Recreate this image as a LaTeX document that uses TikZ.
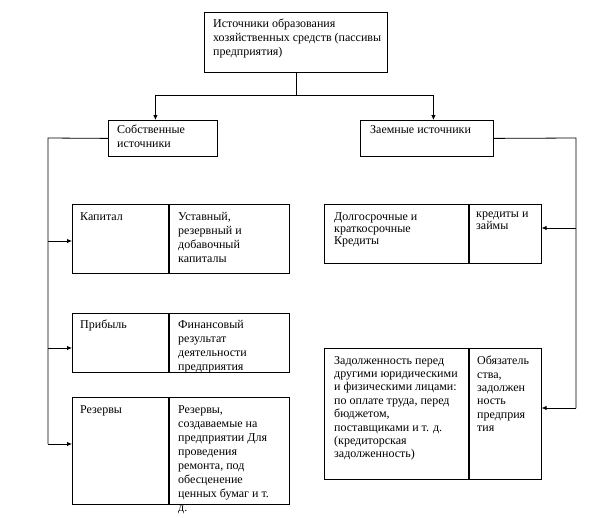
\documentclass[tikz,border=0pt]{standalone}
\usepackage{fontspec}
\setmainfont{Liberation Serif}
\usetikzlibrary{arrows.meta}
\begin{document}
\begin{tikzpicture}[x=1pt,y=-1pt,
  box/.style={draw, line width=0.8pt, inner sep=0pt, anchor=north west},
  txt/.style={inner sep=0pt, anchor=north west, align=left, font=\fontsize{12}{14}\selectfont},
  ln/.style={line width=0.8pt},
  arr/.style={line width=0.8pt, -{Latex[length=5pt,width=4.5pt]}}]
\useasboundingbox (0,0) rectangle (613,517);
% boxes
\node[box, minimum width=183pt, minimum height=60pt] (top) at (204,12) {};
\node[box, minimum width=109pt, minimum height=36pt] (sob) at (108,120) {};
\node[box, minimum width=133pt, minimum height=36pt] (zaem) at (360,120) {};
\node[box, minimum width=96pt, minimum height=69pt] (kapL) at (72,204) {};
\node[box, minimum width=120pt, minimum height=69pt] (kapR) at (kapL.north east) {};
\node[box, minimum width=96pt, minimum height=59pt] (pribL) at (72,313) {};
\node[box, minimum width=120pt, minimum height=59pt] (pribR) at (pribL.north east) {};
\node[box, minimum width=96pt, minimum height=107pt] (rezL) at (72,397) {};
\node[box, minimum width=120pt, minimum height=107pt] (rezR) at (rezL.north east) {};
\node[box, minimum width=144pt, minimum height=59pt] (kredL) at (324,204) {};
\node[box, minimum width=72pt, minimum height=59pt] (kredR) at (kredL.north east) {};
\node[box, minimum width=144pt, minimum height=131pt] (zadL) at (324,348) {};
\node[box, minimum width=72pt, minimum height=131pt] (zadR) at (zadL.north east) {};
% texts
\node[txt] (ttop) at (213,19) {Источники образования\\хозяйственных средств (пассивы\\предприятия)};
\node[txt] (tsob) at (117,125) {Собственные\\источники};
\node[txt] (tzaem) at (370,125) {Заемные источники};
\node[txt] (tkapL) at (80,212) {Капитал};
\node[txt] (tkapR) at (178,212) {Уставный,\\резервный и\\добавочный\\капиталы};
\node[txt] (tpribL) at (80,320) {Прибыль};
\node[txt] (tpribR) at (178,320) {Финансовый\\результат\\деятельности\\предприятия};
\node[txt] (trezL) at (80,405) {Резервы};
\node[txt] (trezR) at (178,405) {Резервы,\\создаваемые на\\предприятии Для\\проведения\\ремонта, под\\обесценение\\ценных бумаг и т.\\д.};
\node[txt, font=\fontsize{12}{12}\selectfont] (tkredL) at (334,212) {Долгосрочные и\\краткосрочные\\Кредиты};
\node[txt, font=\fontsize{12}{12}\selectfont] (tkredR) at (476,212) {кредиты и\\займы};
\node[txt, font=\fontsize{12}{13.4}\selectfont] (tzadL) at (334,356) {Задолженность перед\\другими юридическими\\и физическими лицами:\\по оплате труда, перед\\бюджетом,\\поставщиками и т. д.\\(кредиторская\\задолженность)};
\node[txt, font=\fontsize{12}{13.4}\selectfont] (tzadR) at (477,356) {Обязатель\\ства,\\задолжен\\ность\\предприя\\тия};
% connectors
\coordinate (j) at (top.south |- 0,95);
\draw[ln] (top.south) -- (j);
\draw[arr] (j) -| ([xshift=-7.5pt]sob.north);
\draw[arr] (j) -| ([xshift=6.5pt]zaem.north);
\coordinate (lb0) at (48,138);
\coordinate (lb1) at (48,241);
\coordinate (lb2) at (48,348);
\coordinate (lb3) at (48,444);
\draw[ln] (sob.west) -- (lb0) -- (lb3);
\draw[arr] (lb1) -- (lb1 -| kapL.west);
\draw[arr] (lb2) -- (lb2 -| pribL.west);
\draw[arr] (lb3) -- (lb3 -| rezL.west);
\coordinate (rb0) at (576,138);
\coordinate (rb1) at (576,228);
\coordinate (rb2) at (576,408);
\draw[ln] (zaem.east) -- (rb0) -- (rb2);
\draw[arr] (rb1) -- (rb1 -| kredR.east);
\draw[arr] (rb2) -- (rb2 -| zadR.east);
\end{tikzpicture}
\end{document}
